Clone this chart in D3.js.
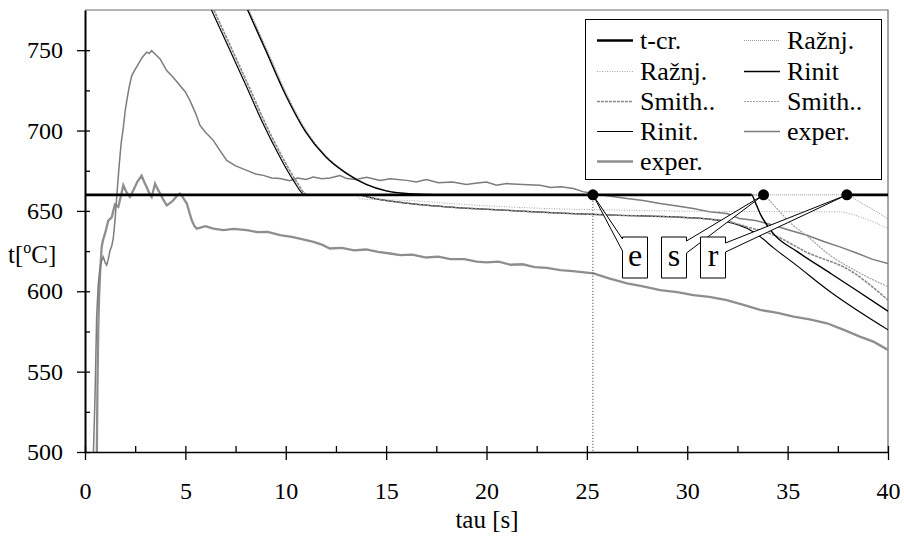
<!DOCTYPE html>
<meta charset="utf-8">
<style>
  body { margin: 0; background: #fff; }
  .line { fill: none; }
  .serif { font-family: 'Times New Roman', 'Liberation Serif', serif; }
</style>
<body>
<script src="https://d3js.org/d3.v7.min.js"></script>
<script>

var FONT = "'Times New Roman', 'Liberation Serif', serif";

// ---- values (time in s, temperature in deg C) ----

// critical temperature; hidden between the Rinit and Ražnj. departures
var tcrTime = [0, 33.2, 33.2, 37.95, 37.95, 40];
var tcrTemp = [660, 660, null, null, 660, 660];

// model group that reaches 660 at ~16 s
var rinitRTime = [8.1, 9.0, 10.0, 11.0, 12.0, 13.0, 14.0, 15.0, 16.0, 17.0, 18, 33.2, 33.4, 33.63, 34.28, 35.5, 37.12, 38.5, 40];
var rinitRTemp = [775, 750, 722, 699, 683.5, 673.5, 666.5, 662.5, 660.8, 660.2, 660, 660, 655, 648.3, 636, 624.5, 611.3, 600, 587.6];
var smithRTime = [8.14, 9.04, 10.04, 11.04, 12.04, 13.04, 14.04, 15.04, 16.04, 17.04, 18, 33.8, 34.1, 34.5, 35.1, 36, 37.1, 38.5, 40];
var smithRTemp = [775, 750, 722, 699, 683.5, 673.5, 666.5, 662.5, 660.8, 660.2, 660, 660, 656.5, 651, 643, 634, 622.5, 612, 602.8];
var raznjRTime = [8.18, 9.08, 10.08, 11.08, 12.08, 13.08, 14.08, 15.08, 16.08, 17.08, 18, 37.95, 38.2, 38.6, 39.3, 40];
var raznjRTemp = [775, 750, 722, 699, 683.5, 673.5, 666.5, 662.5, 660.8, 660.2, 660, 660, 658.5, 655.5, 650.5, 645];

// model group that reaches 660 at ~11 s
var rinitLTime = [6.3, 7.22, 8.06, 8.88, 9.71, 10.38, 10.96, 13.5, 14.5, 15.5, 18, 21, 23.7, 26.6, 30, 31, 32, 33.0, 33.63, 34.3, 35.3, 37.12, 40];
var rinitLTemp = [775, 750, 727, 704, 683.5, 669, 660, 660, 657.5, 655.6, 652.5, 650.4, 648.6, 647.3, 645.8, 645, 643.2, 639, 634, 627, 617.5, 599.7, 576];
var smithLTime = [6.42, 7.34, 8.18, 9.0, 9.83, 10.5, 11.08, 13.5, 14.5, 15.5, 18, 21, 23.7, 26.6, 30, 31, 32, 33, 34.3, 36, 38.1, 40];
var smithLTemp = [775, 750, 727, 704, 683.5, 669, 660, 660, 657.5, 655.6, 652.5, 650.4, 648.6, 647.3, 645.8, 645, 643.5, 640, 635, 624, 613, 594.5];
var raznjLTime = [6.38, 7.3, 8.14, 8.96, 9.79, 10.46, 11.04, 13.5, 13.7, 16, 19.4, 23, 26.6, 30, 37.6, 38.3, 39.2, 40];
var raznjLTemp = [775, 750, 727, 704, 683.5, 669, 660, 660, 657.5, 656.5, 653.6, 651.5, 650.5, 649.8, 649.4, 647.5, 643.5, 639];

// measured curves
var experATime = [0.42, 0.5, 0.58, 0.66, 0.75, 0.83, 0.91, 1.0, 1.08, 1.16, 1.25, 1.33, 1.41, 1.5, 1.6, 1.7, 1.8, 1.91, 2.0, 2.1, 2.2, 2.33, 2.5, 2.66, 2.85, 3.07, 3.2, 3.32, 3.5, 3.74, 3.9, 4.07, 4.4, 4.73, 5.0, 5.23, 5.5, 5.73, 6.0, 6.39, 6.7, 7.06, 7.5, 8.06, 8.5, 8.88, 9.3, 9.71, 10.2, 10.6, 11.0, 11.37, 11.8, 12.2, 12.7, 13.04, 13.5, 14.03, 14.7, 15.2, 16.03, 16.5, 17.0, 17.6, 18.3, 19.0, 19.35, 20.0, 20.5, 21.0, 21.8, 22.67, 23.2, 23.7, 24.33, 24.8, 25.33, 26.0, 27.0, 27.8, 28.65, 29.5, 30.3, 31.1, 31.97, 32.6, 33.4, 34.3, 35.1, 35.96, 36.8, 37.6, 38.4, 39.2, 40];
var experATemp = [500, 534.5, 584, 604, 615, 619, 621.4, 618, 616.3, 620, 625.6, 628, 633, 645, 662, 678, 692, 702, 712, 720, 727, 734.2, 738, 741.5, 745.5, 748.7, 748, 749.7, 747.5, 744.6, 741, 737.3, 733, 728, 724, 718.6, 711, 703.2, 699, 693.9, 688, 681.4, 678, 675.2, 673, 672.1, 670.5, 670.1, 668.8, 670.5, 669.5, 671.1, 670, 670.5, 672, 670.1, 669.5, 671, 669, 670, 669, 668, 669.5, 667.5, 668, 666.5, 667, 668, 666, 667, 666.5, 666, 664.5, 665, 663.9, 662, 660.8, 659.5, 657.7, 656.5, 654.6, 653, 651.5, 649.5, 648.4, 645.3, 644, 641.1, 638, 634.9, 631, 627.6, 624, 620, 617.3];

var experBTime = [0.59, 0.62, 0.66, 0.7, 0.75, 0.83, 0.9, 1.0, 1.16, 1.33, 1.49, 1.66, 1.8, 1.91, 2.05, 2.24, 2.41, 2.6, 2.82, 2.95, 3.07, 3.2, 3.32, 3.49, 3.6, 3.74, 3.9, 4.07, 4.25, 4.4, 4.55, 4.73, 4.9, 5.07, 5.2, 5.32, 5.45, 5.57, 6.0, 6.39, 6.9, 7.4, 8.06, 8.6, 9.1, 9.72, 10.3, 10.8, 11.38, 11.8, 12.2, 12.8, 13.4, 14.0, 14.6, 15.2, 15.7, 16.3, 17.0, 17.6, 18.2, 18.9, 19.5, 20.0, 20.6, 21.2, 21.8, 22.4, 23.0, 23.67, 24.3, 25.33, 26.1, 27.0, 27.8, 28.65, 29.5, 30.3, 31.1, 31.97, 32.8, 33.63, 34.5, 35.3, 36.1, 36.96, 37.8, 38.6, 39.3, 40];
var experBTemp = [500, 540, 576, 596, 611, 627.6, 632, 636, 644, 646, 654, 652.5, 660, 666, 662, 658.7, 662.8, 668, 672, 668, 664.9, 661, 658.7, 667, 664, 660.8, 657, 653.5, 655, 656.6, 659, 660.8, 658, 654.6, 649, 644.2, 640.5, 639, 640.5, 639, 638, 638.8, 638, 636.8, 637, 634.9, 633.8, 632.5, 630.7, 629, 626.6, 627, 625.5, 626, 624.5, 623.5, 622.5, 622.8, 621, 621.5, 620, 620, 618.5, 618, 618.4, 616.5, 616.8, 615, 614.5, 613.2, 612.5, 611.1, 608, 604.9, 603, 600.7, 599.5, 597.6, 596.5, 594.5, 591.5, 588.4, 586.5, 584.2, 582.5, 580.1, 576, 571.8, 568.5, 563.5];

// end-of-transformation marks
var markLabels = ["e", "s", "r"];
var markTimes = [25.3, 33.8, 37.95];
var markTemp = 660;

// axis ticks
var xMajor = [0, 5, 10, 15, 20, 25, 30, 35, 40];
var xMinor = [2.5, 7.5, 12.5, 17.5, 22.5, 27.5, 32.5, 37.5];
var yMajor = [500, 550, 600, 650, 700, 750];
var yMinor = [525, 575, 625, 675, 725];

// ---- series table (legend order, row by row) ----
var series = [
  {name: "t-cr.",   t: tcrTime,    v: tcrTemp,    color: "#000",    width: 2.6, dash: null},
  {name: "Ražnj.",  t: raznjRTime, v: raznjRTemp, color: "#9a9a9a", width: 1,   dash: "1,1"},
  {name: "Ražnj.",  t: raznjLTime, v: raznjLTemp, color: "#a5a5a5", width: 1,   dash: "1,1.5"},
  {name: "Rinit",   t: rinitRTime, v: rinitRTemp, color: "#000",    width: 1.4, dash: null},
  {name: "Smith..", t: smithLTime, v: smithLTemp, color: "#8a8a8a", width: 1.6, dash: "3,1"},
  {name: "Smith..", t: smithRTime, v: smithRTemp, color: "#a0a0a0", width: 1.2, dash: "2,1"},
  {name: "Rinit.",  t: rinitLTime, v: rinitLTemp, color: "#000",    width: 1.2, dash: null},
  {name: "exper.",  t: experATime, v: experATemp, color: "#7c7c7c", width: 1.5, dash: null, raw: true},
  {name: "exper.",  t: experBTime, v: experBTemp, color: "#8e8e8e", width: 2.3, dash: null, raw: true}
];
var drawOrder = [8, 7, 2, 1, 6, 4, 5, 0, 3];

var W = 904, H = 536;
var x = d3.scaleLinear().domain([0, 40]).range([85, 888]);
var y = d3.scaleLinear().domain([500, 775]).range([452, 10]);

var svg = d3.select("body").append("svg")
    .attr("width", W).attr("height", H)
    .style("font-family", FONT);
svg.append("rect").attr("width", W).attr("height", H).attr("fill", "#fff");

svg.append("clipPath").attr("id", "plot")
  .append("rect")
    .attr("x", x(0)).attr("y", y(775))
    .attr("width", x(40) - x(0)).attr("height", y(500) - y(775));

// top and right border of plot area
svg.append("path")
    .attr("d", "M" + x(0) + "," + y(775) + "H" + x(40) + "V" + y(500))
    .attr("fill", "none").attr("stroke", "#6a6a6a").attr("stroke-width", 1.2);

// ---- lines ----
var lines = svg.append("g").attr("clip-path", "url(#plot)");

drawOrder.forEach(function(i) {
  var s = series[i];
  var pts = s.t.map(function(t, k) { return {t: t, v: s.v[k]}; });
  var gen = d3.line()
      .defined(function(d) { return d.v != null; })
      .x(function(d) { return x(d.t); })
      .y(function(d) { return y(d.v); })
      .curve(s.raw ? d3.curveLinear : d3.curveMonotoneX);
  lines.append("path")
      .datum(pts)
      .attr("class", "line")
      .attr("stroke", s.color)
      .attr("stroke-width", s.width)
      .attr("stroke-dasharray", s.dash)
      .attr("d", gen);
});

// vertical dotted line under mark "e"
lines.append("line")
    .attr("x1", x(markTimes[0])).attr("x2", x(markTimes[0]))
    .attr("y1", y(markTemp)).attr("y2", y(500))
    .attr("stroke", "#333").attr("stroke-width", 1).attr("stroke-dasharray", "1,2");

// ---- axes ----
function styleAxis(g) {
  g.attr("font-family", null).attr("font-size", null);
  g.selectAll("text").attr("class", "serif").style("font-family", FONT)
      .attr("font-size", 24).attr("fill", "#000");
  g.selectAll("path, line").attr("stroke", "#000").attr("stroke-width", 1.3);
}

svg.append("g")
    .attr("transform", "translate(0," + y(500) + ")")
    .call(d3.axisBottom(x).tickValues(xMajor).tickSize(8).tickSizeOuter(0)
      .tickPadding(22).tickFormat(d3.format("d")))
    .call(styleAxis);
svg.append("g")
    .attr("transform", "translate(0," + y(500) + ")")
    .call(d3.axisBottom(x).tickValues(xMajor.concat(xMinor)).tickSize(-6).tickFormat(""))
    .call(styleAxis)
    .select(".domain").remove();

svg.append("g")
    .attr("transform", "translate(" + x(0) + ",0)")
    .call(d3.axisLeft(y).tickValues(yMajor).tickSize(8).tickSizeOuter(0)
      .tickPadding(14).tickFormat(d3.format("d")))
    .call(styleAxis)
    .select(".domain").attr("stroke-width", 2);
svg.append("g")
    .attr("transform", "translate(" + x(0) + ",0)")
    .call(d3.axisLeft(y).tickValues(yMajor.concat(yMinor)).tickSize(-5).tickFormat(""))
    .call(styleAxis)
    .select(".domain").remove();

// axis titles
var yTitle = svg.append("text").attr("class", "serif").attr("x", 8).attr("y", 263)
    .style("font-family", FONT).attr("font-size", 25);
yTitle.append("tspan").text("t[");
yTitle.append("tspan").attr("font-size", 16).attr("dy", -10).text("o");
yTitle.append("tspan").attr("dy", 10).text("C]");

svg.append("text").attr("class", "serif")
    .attr("x", 487).attr("y", 528)
    .attr("text-anchor", "middle")
    .style("font-family", FONT).attr("font-size", 25)
    .text("tau [s]");

// ---- callouts for e, s, r ----
var boxX = [622, 661, 700], boxW = 25, boxTop = 237, boxBot = 278;
var wedgeSide = ["left", "right", "right"];
var wedgeY = [[239, 251], [241, 253], [243, 252]];

markLabels.forEach(function(lab, i) {
  var x0 = boxX[i] + 0.5, x1 = boxX[i] + boxW + 0.5;
  var tx = x(markTimes[i]), ty = y(markTemp);
  var w = wedgeY[i], p = d3.path();
  if (wedgeSide[i] === "left") {
    p.moveTo(x0, boxTop); p.lineTo(x1, boxTop); p.lineTo(x1, boxBot); p.lineTo(x0, boxBot);
    p.lineTo(x0, w[1]); p.lineTo(tx, ty); p.lineTo(x0, w[0]); p.closePath();
  } else {
    p.moveTo(x0, boxTop); p.lineTo(x1, boxTop); p.lineTo(x1, w[0]); p.lineTo(tx, ty);
    p.lineTo(x1, w[1]); p.lineTo(x1, boxBot); p.lineTo(x0, boxBot); p.closePath();
  }
  svg.append("path").attr("d", p.toString())
      .attr("fill", "#fff").attr("stroke", "#000").attr("stroke-width", 1);
  svg.append("text").attr("class", "serif")
      .attr("x", (x0 + x1) / 2).attr("y", 266)
      .attr("text-anchor", "middle")
      .style("font-family", FONT).attr("font-size", 32)
      .text(lab);
});

svg.selectAll(".mark")
    .data(markTimes)
  .enter().append("circle")
    .attr("class", "mark")
    .attr("cx", function(d) { return x(d); })
    .attr("cy", y(markTemp))
    .attr("r", 5.5)
    .attr("fill", "#000");

// ---- legend ----
var legend = svg.append("g");
legend.append("rect")
    .attr("x", 585.5).attr("y", 19.5).attr("width", 296).attr("height", 160)
    .attr("fill", "#fff").attr("stroke", "#000").attr("stroke-width", 1);

var colX = [597, 744], rowY = [40, 71, 101, 131, 161];
series.forEach(function(s, i) {
  var cx = colX[i % 2], cy = rowY[Math.floor(i / 2)] + 0.5;
  legend.append("line")
      .attr("x1", cx).attr("x2", cx + 36).attr("y1", cy).attr("y2", cy)
      .attr("stroke", s.color).attr("stroke-width", Math.max(1, s.width))
      .attr("stroke-dasharray", s.dash);
  legend.append("text").attr("class", "serif")
      .attr("x", cx + 43).attr("y", cy + 8)
      .style("font-family", FONT).attr("font-size", 26)
      .text(s.name);
});

</script>
</body>
